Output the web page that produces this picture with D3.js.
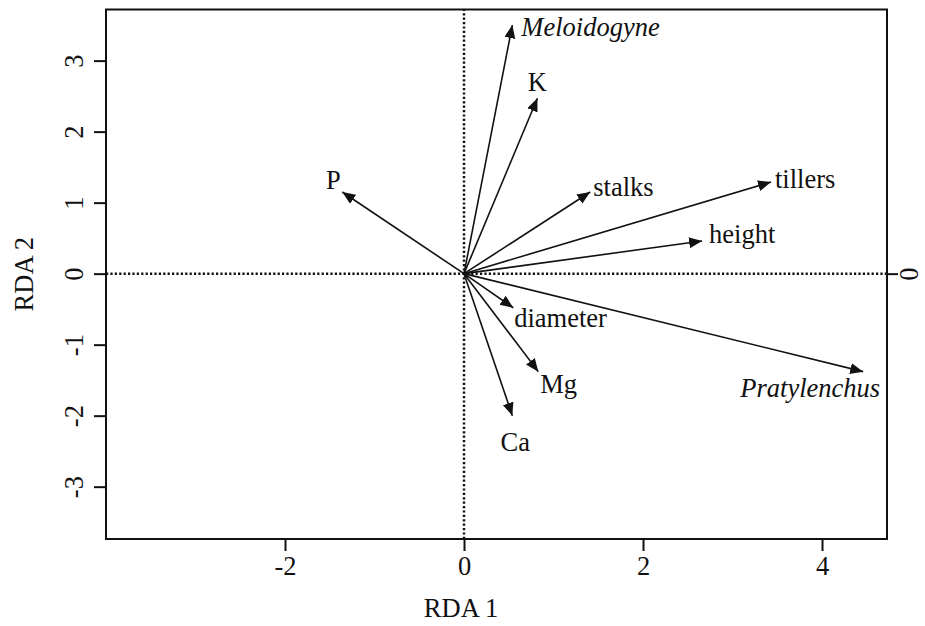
<!DOCTYPE html>
<html>
<head>
<meta charset="utf-8">
<script src="https://cdn.jsdelivr.net/npm/d3@7"></script>
<style>
  body { margin: 0; background: #fff; }
  svg text { font-family: "Liberation Serif", "Times New Roman", serif; fill: #111; }
</style>
</head>
<body>
<div id="chart"></div>
<script>
// biplot vectors (RDA 1, RDA 2)
var names = ["Meloidogyne", "K", "stalks", "tillers", "height", "P", "diameter", "Mg", "Ca", "Pratylenchus"];
var rda1 = [0.54, 0.82, 1.41, 3.43, 2.66, -1.36, 0.55, 0.83, 0.54, 4.46];
var rda2 = [3.50, 2.47, 1.15, 1.29, 0.46, 1.15, -0.48, -1.38, -2.00, -1.38];
var italicNames = ["Meloidogyne", "Pratylenchus"];

var xTicks = [-2, 0, 2, 4];
var yTicks = [-3, -2, -1, 0, 1, 2, 3];

// label placement relative to arrow tip: [dx, dy, anchor]
var labelPlace = {
  "Meloidogyne": [9, 11, "start"],
  "K": [0, -7, "middle"],
  "stalks": [3, 4, "start"],
  "tillers": [4, 6, "start"],
  "height": [7, 2, "start"],
  "P": [-9, -3, "middle"],
  "diameter": [1, 19, "start"],
  "Mg": [2, 21, "start"],
  "Ca": [3, 35, "middle"],
  "Pratylenchus": [17, 25, "end"]
};

var width = 925, height = 626;
var margin = {top: 9.5, right: 38, bottom: 87, left: 106};

var svg = d3.select("#chart").append("svg")
    .attr("width", width)
    .attr("height", height);

var x = d3.scaleLinear()
    .domain([-4.0, 4.726])
    .range([margin.left, width - margin.right]);

var y = d3.scaleLinear()
    .domain([-3.737, 3.72])
    .range([height - margin.bottom, margin.top]);

var fs = 26.5;
var fmt = function (d) { return String(d); }; // plain hyphen, like R

// zero lines
svg.append("line")
    .attr("x1", x.range()[0]).attr("x2", x.range()[1])
    .attr("y1", y(0)).attr("y2", y(0))
    .attr("stroke", "#111").attr("stroke-width", 2.5)
    .attr("stroke-dasharray", "2.2,2.2");
svg.append("line")
    .attr("x1", x(0)).attr("x2", x(0))
    .attr("y1", y.range()[0]).attr("y2", y.range()[1])
    .attr("stroke", "#111").attr("stroke-width", 2.5)
    .attr("stroke-dasharray", "2.2,2.2");

// axes
var xAxis = d3.axisBottom(x).tickValues(xTicks).tickSize(12).tickPadding(6).tickFormat(fmt);
var gX = svg.append("g")
    .attr("transform", "translate(0," + y.range()[0] + ")")
    .call(xAxis);
gX.select(".domain").remove();
gX.selectAll("line").attr("stroke", "#111").attr("stroke-width", 2);
gX.selectAll("text")
    .attr("font-size", fs)
    .attr("font-family", "Liberation Serif")
    .attr("fill", "#111")
    .attr("dy", "0.71em")
    .attr("y", 17.5);

var yAxis = d3.axisLeft(y).tickValues(yTicks).tickSize(12).tickFormat(fmt);
var gY = svg.append("g")
    .attr("transform", "translate(" + x.range()[0] + ",0)")
    .call(yAxis);
gY.select(".domain").remove();
gY.selectAll("line").attr("stroke", "#111").attr("stroke-width", 2);
gY.selectAll("text")
    .attr("font-size", fs)
    .attr("font-family", "Liberation Serif")
    .attr("fill", "#111")
    .attr("x", null).attr("dy", null)
    .attr("text-anchor", "middle")
    .attr("transform", "translate(-23,0) rotate(-90)");

var yAxisR = d3.axisRight(y).tickValues([0]).tickSize(11).tickFormat(fmt);
var gYR = svg.append("g")
    .attr("transform", "translate(" + x.range()[1] + ",0)")
    .call(yAxisR);
gYR.select(".domain").remove();
gYR.selectAll("line").attr("stroke", "#111").attr("stroke-width", 2);
gYR.selectAll("text")
    .attr("font-size", fs)
    .attr("font-family", "Liberation Serif")
    .attr("fill", "#111")
    .attr("x", null).attr("dy", null)
    .attr("text-anchor", "middle")
    .attr("transform", "translate(31,0) rotate(-90)");

// box
svg.append("rect")
    .attr("x", x.range()[0]).attr("y", y.range()[1])
    .attr("width", x.range()[1] - x.range()[0])
    .attr("height", y.range()[0] - y.range()[1])
    .attr("fill", "none").attr("stroke", "#111").attr("stroke-width", 2);

// axis titles
svg.append("text")
    .attr("x", 461).attr("y", 616.5)
    .attr("text-anchor", "middle")
    .attr("font-size", fs)
    .text("RDA 1");
svg.append("text")
    .attr("transform", "translate(33," + ((y.range()[0] + y.range()[1]) / 2) + ") rotate(-90)")
    .attr("text-anchor", "middle")
    .attr("font-size", fs)
    .text("RDA 2");

// arrow head
svg.append("defs").append("marker")
    .attr("id", "head")
    .attr("markerUnits", "userSpaceOnUse")
    .attr("markerWidth", 14).attr("markerHeight", 12)
    .attr("refX", 13).attr("refY", 5.5)
    .attr("orient", "auto")
  .append("path")
    .attr("d", "M0,0 L13,5.5 L0,11 Z")
    .attr("fill", "#111");

var data = names.map(function (n, i) { return {name: n, x: rda1[i], y: rda2[i]}; });

svg.append("g").selectAll("line")
    .data(data)
    .enter().append("line")
    .attr("x1", x(0)).attr("y1", y(0))
    .attr("x2", function (d) { return x(d.x); })
    .attr("y2", function (d) { return y(d.y); })
    .attr("stroke", "#111")
    .attr("stroke-width", 1.6)
    .attr("marker-end", "url(#head)");

svg.append("g").selectAll("text")
    .data(data)
    .enter().append("text")
    .attr("x", function (d) { return x(d.x) + labelPlace[d.name][0]; })
    .attr("y", function (d) { return y(d.y) + labelPlace[d.name][1]; })
    .attr("text-anchor", function (d) { return labelPlace[d.name][2]; })
    .attr("font-size", fs)
    .attr("font-style", function (d) { return italicNames.indexOf(d.name) >= 0 ? "italic" : "normal"; })
    .text(function (d) { return d.name; });
</script>
</body>
</html>
